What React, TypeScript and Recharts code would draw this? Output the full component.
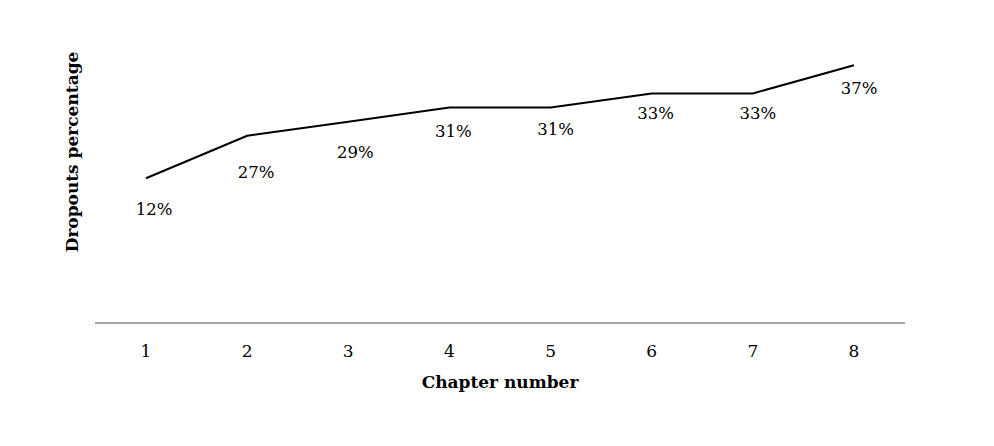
import { LineChart, Line, XAxis, YAxis, LabelList } from 'recharts';

// chapters on the x axis
const chapters = ['1', '2', '3', '4', '5', '6', '7', '8'];
// height of the drawn line at each chapter
const lineValues = [21, 27, 29, 31, 31, 33, 33, 37];
// the printed data labels
const dropoutLabels = ['12%', '27%', '29%', '31%', '31%', '33%', '33%', '37%'];

const data = chapters.map((c, i) => ({
  chapter: c,
  value: lineValues[i],
  label: dropoutLabels[i],
}));

// label nudges relative to each point (label centre)
const LABEL_DX = [8, 9, 7, 4, 5, 4, 5, 5];
const LABEL_DY = [31, 36, 30, 23, 21, 20, 20, 23];

const FONT = '"DejaVu Serif", serif';

const PointLabel = (props: any) => {
  const { x, y, index } = props;
  return (
    <text
      x={x + LABEL_DX[index]}
      y={y + LABEL_DY[index] + 6}
      textAnchor="middle"
      fontSize={16.5}
      fill="#000"
      fontFamily={FONT}
    >
      {dropoutLabels[index]}
    </text>
  );
};

const YTitle = (props: any) => {
  const { viewBox } = props;
  const cx = viewBox.x + viewBox.width - 23;
  const cy = viewBox.y + 108;
  return (
    <text
      x={cx}
      y={cy}
      transform={`rotate(-90 ${cx} ${cy})`}
      textAnchor="middle"
      dominantBaseline="central"
      fontSize={17}
      fontWeight="bold"
      fill="#000"
      fontFamily={FONT}
    >
      Dropouts percentage
    </text>
  );
};

export default function App() {
  return (
    <div style={{ margin: -8, width: 994, height: 446, background: '#fff', fontFamily: FONT }}>
      <LineChart
        width={994}
        height={446}
        data={data}
        margin={{ top: 44, right: 89, left: 0, bottom: 48 }}
      >
        <XAxis
          dataKey="chapter"
          height={75}
          padding={{ left: 51, right: 51 }}
          axisLine={{ stroke: '#a6a6a6', strokeWidth: 2 }}
          tickLine={false}
          tickSize={0}
          tickMargin={22}
          tick={{ fill: '#000', fontSize: 17, fontFamily: FONT }}
          label={{
            value: 'Chapter number',
            position: 'insideBottom',
            offset: 10,
            fill: '#000',
            fontSize: 17,
            fontWeight: 'bold',
            fontFamily: FONT,
          }}
        />
        <YAxis
          type="number"
          domain={[0.5, 40]}
          allowDataOverflow
          width={95}
          axisLine={false}
          tickLine={false}
          tick={false}
          label={{ content: <YTitle /> }}
        />
        <Line
          type="linear"
          dataKey="value"
          stroke="#000"
          strokeWidth={2}
          dot={false}
          activeDot={false}
          isAnimationActive={false}
        >
          <LabelList dataKey="label" content={<PointLabel />} />
        </Line>
      </LineChart>
    </div>
  );
}
